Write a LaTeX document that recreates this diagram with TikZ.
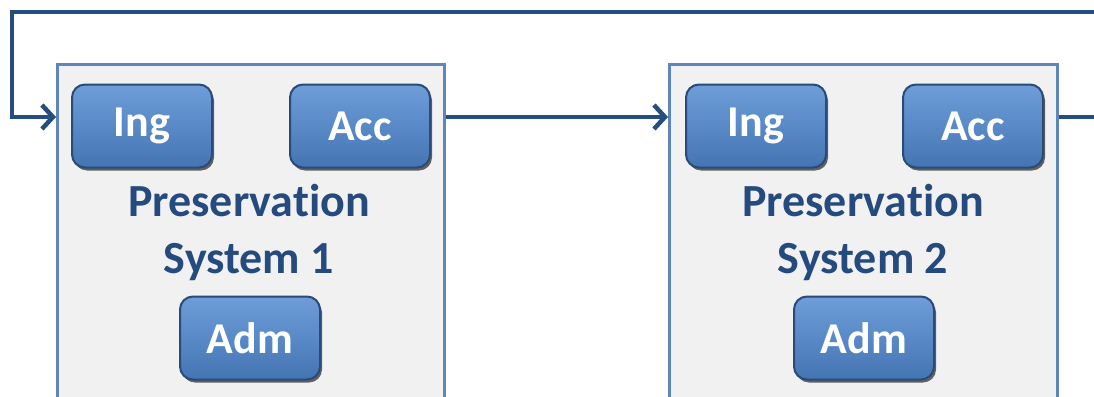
\documentclass[tikz,border=0pt]{standalone}
\usepackage{fontspec}
\setmainfont[Ligatures=NoCommon]{Carlito}
\usetikzlibrary{arrows.meta,shadows}
\definecolor{linec}{HTML}{254D80}
\definecolor{boxedge}{HTML}{5E86BA}
\definecolor{boxfill}{HTML}{F1F1F1}
\definecolor{btntop}{HTML}{6E9DD9}
\definecolor{btnbot}{HTML}{4475B3}
\definecolor{btnedge}{HTML}{2A4B78}
\definecolor{titlec}{HTML}{244A7E}
\tikzset{
  x=1pt,y=1pt,
  sysbox/.style={draw=boxedge,line width=3pt,fill=boxfill,rectangle,inner sep=0pt,anchor=north west},
  btn/.style={rectangle,rounded corners=13pt,draw=btnedge,line width=2pt,
    top color=btntop,bottom color=btnbot,minimum width=140pt,minimum height=83pt,
    text=white,font=\bfseries\fontsize{44}{46}\selectfont,
    drop shadow={shadow xshift=2pt,shadow yshift=-3pt,fill=black,opacity=0.6}},
  ttl/.style={text=titlec,font=\bfseries\fontsize{46}{57}\selectfont,align=center},
  conn/.style={draw=linec,line width=4.5pt},
  arr/.style={conn,-{Straight Barb[length=11pt,width=24pt,line width=4.5pt]}}
}
\begin{document}
\begin{tikzpicture}
\useasboundingbox (0,0) rectangle (1094,-396);
% system boxes
\node[sysbox,minimum width=387pt,minimum height=334pt] (s1) at (56,-63) {};
\node[sysbox,minimum width=388pt,minimum height=334pt] (s2) at (668,-63) {};
% buttons
\node[btn] (ing1) at (142,-126) {Ing};
\node[btn] (acc1) at (360,-126) {Acc};
\node[btn] (adm1) at (250,-338) {Adm};
\node[btn] (ing2) at (756,-126) {Ing};
\node[btn] (acc2) at (973,-126) {Acc};
\node[btn] (adm2) at (864,-338) {Adm};
% titles
\node[ttl] (t1) at (249,-232) {Preservation\\System 1};
\node[ttl] (t2) at (863,-232) {Preservation\\System 2};
% connectors
\coordinate (c1) at (1094,-12);
\coordinate (c2) at (12,-12);
\coordinate (c3) at (1094,-117);
\draw[arr] (c1) -- (c2) |- (s1.west |- 0,-117);
\draw[arr] (s1.east |- 0,-117) -- (s2.west |- 0,-117);
\draw[conn] (s2.east |- 0,-117) -- (c3);
\end{tikzpicture}
\end{document}
